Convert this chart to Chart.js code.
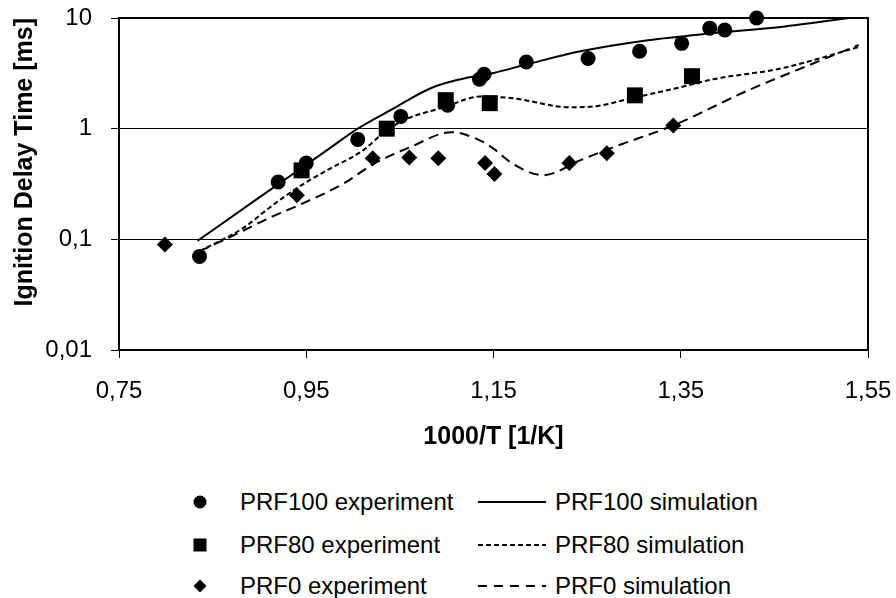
<!DOCTYPE html>
<html>
<head>
<meta charset="utf-8">
<script src="https://cdn.jsdelivr.net/npm/chart.js@4/dist/chart.umd.min.js"></script>
<style>
  html, body { margin: 0; padding: 0; background: #fff; }
  body { width: 896px; height: 598px; position: relative; overflow: hidden;
         font-family: "Liberation Sans", Arial, sans-serif; color: #000; }
  #wrap { position: absolute; left: 0; top: 0; width: 896px; height: 460px; }
  .row { position: absolute; left: 0; height: 30px; width: 896px; font-size: 24px; line-height: 30px; }
  .row span, .row svg { position: absolute; top: 0; }
</style>
</head>
<body>
<div id="wrap"><canvas id="chart" width="896" height="460"></canvas></div>
<div id="legend"></div>
<script>
// experiment points, x = 1000/T [1/K], y = ignition delay [ms]
const prf100ExpX = [0.836, 0.920, 0.950, 1.005, 1.051, 1.101, 1.135, 1.140, 1.185, 1.251, 1.306, 1.351, 1.381, 1.397, 1.431];
const prf100ExpY = [0.07, 0.33, 0.49, 0.80, 1.29, 1.63, 2.8, 3.1, 4.0, 4.3, 5.0, 5.9, 8.1, 7.8, 10];
const prf80ExpX = [0.945, 1.036, 1.099, 1.146, 1.301, 1.362];
const prf80ExpY = [0.42, 1.0, 1.81, 1.70, 2.0, 2.98];
const prf0ExpX = [0.799, 0.940, 1.021, 1.060, 1.091, 1.141, 1.151, 1.231, 1.271, 1.342];
const prf0ExpY = [0.09, 0.25, 0.54, 0.55, 0.54, 0.49, 0.39, 0.49, 0.60, 1.07];

// simulation curves
const prf100SimX = [0.834, 0.898, 0.970, 1.005, 1.040, 1.083, 1.115, 1.150, 1.185, 1.243, 1.315, 1.385, 1.457, 1.530];
const prf100SimY = [0.097, 0.233, 0.62, 1.0, 1.47, 2.32, 2.8, 3.19, 3.8, 5.0, 6.3, 7.3, 8.3, 10];
const prf80SimX = [0.836, 0.883, 0.911, 0.940, 0.972, 1.011, 1.032, 1.054, 1.097, 1.136, 1.171, 1.232, 1.261, 1.297, 1.350, 1.385, 1.457, 1.540];
const prf80SimY = [0.078, 0.127, 0.194, 0.29, 0.42, 0.64, 0.91, 1.19, 1.56, 1.95, 1.88, 1.56, 1.6, 1.88, 2.37, 2.8, 3.5, 5.46];
const prf0SimX = [0.836, 0.883, 0.911, 0.940, 0.990, 1.022, 1.061, 1.105, 1.136, 1.150, 1.171, 1.203, 1.243, 1.278, 1.342, 1.422, 1.492, 1.540];
const prf0SimY = [0.078, 0.12, 0.157, 0.20, 0.32, 0.48, 0.68, 0.93, 0.78, 0.66, 0.48, 0.38, 0.52, 0.68, 1.07, 2.22, 3.9, 5.7];

const xTickValues = [0.75, 0.95, 1.15, 1.35, 1.55];
const xTickLabels = ["0,75", "0,95", "1,15", "1,35", "1,55"];
const yTickValues = [0.01, 0.1, 1, 10];
const yTickLabels = ["0,01", "0,1", "1", "10"];

const legendItems = [
    { kind: "circle", text: "PRF100 experiment", dash: "", simText: "PRF100 simulation" },
    { kind: "square", text: "PRF80 experiment", dash: "5,3", simText: "PRF80 simulation" },
    { kind: "diamond", text: "PRF0 experiment", dash: "9,7", simText: "PRF0 simulation" }
];

function pts(xs, ys) {
    return xs.map((x, i) => ({ x: x, y: ys[i] }));
}

const FONT = "'Liberation Sans', Arial, sans-serif";

function expSet(label, xs, ys, style, r) {
    return {
        label: label,
        data: pts(xs, ys),
        showLine: false,
        pointStyle: style,
        pointRadius: r,
        pointHoverRadius: r,
        pointBackgroundColor: "#000",
        pointBorderColor: "#000",
        pointBorderWidth: 0,
        clip: false,
        order: 0
    };
}

function simSet(label, xs, ys, dash) {
    return {
        label: label,
        data: pts(xs, ys),
        showLine: true,
        borderColor: "#000",
        borderWidth: 2,
        borderDash: dash,
        pointRadius: 0,
        cubicInterpolationMode: "monotone",
        fill: false,
        order: 1
    };
}

// box round the plot area (top and right edges)
const frame = {
    id: "frame",
    afterDraw(chart) {
        const a = chart.chartArea;
        const c = chart.ctx;
        c.save();
        c.strokeStyle = "#000";
        c.lineWidth = 2;
        c.beginPath();
        c.moveTo(a.left, a.top);
        c.lineTo(a.right, a.top);
        c.lineTo(a.right, a.bottom);
        c.stroke();
        c.restore();
    }
};

new Chart(document.getElementById("chart"), {
    type: "scatter",
    data: {
        datasets: [
            expSet("PRF100 experiment", prf100ExpX, prf100ExpY, "circle", 7.5),
            expSet("PRF80 experiment", prf80ExpX, prf80ExpY, "rect", 11.3),
            expSet("PRF0 experiment", prf0ExpX, prf0ExpY, "rectRot", 8),
            simSet("PRF100 simulation", prf100SimX, prf100SimY, []),
            simSet("PRF80 simulation", prf80SimX, prf80SimY, [5, 3]),
            simSet("PRF0 simulation", prf0SimX, prf0SimY, [10, 6])
        ]
    },
    options: {
        responsive: false,
        animation: false,
        layout: { padding: { top: 18, right: 28, bottom: 8, left: 0 } },
        plugins: { legend: { display: false }, tooltip: { enabled: false } },
        scales: {
            x: {
                type: "linear",
                min: 0.75,
                max: 1.55,
                afterBuildTicks: s => { s.ticks = xTickValues.map(v => ({ value: v })); },
                afterFit: s => { s.height = 102; s.paddingLeft = 0; s.paddingRight = 0; },
                ticks: {
                    color: "#000",
                    padding: 19,
                    maxRotation: 0,
                    font: { family: FONT, size: 24 },
                    callback: (v, i) => xTickLabels[i]
                },
                grid: { drawOnChartArea: false, drawTicks: true, tickLength: 8, color: "#000", lineWidth: 1 },
                border: { color: "#000", width: 2 },
                title: {
                    display: true,
                    text: "1000/T [1/K]",
                    color: "#000",
                    padding: { top: 0, bottom: 0 },
                    font: { family: FONT, size: 25, weight: "bold" }
                }
            },
            y: {
                type: "logarithmic",
                min: 0.01,
                max: 10,
                afterBuildTicks: s => { s.ticks = yTickValues.map(v => ({ value: v })); },
                afterFit: s => { s.width = 119; s.paddingTop = 0; s.paddingBottom = 0; },
                ticks: {
                    color: "#000",
                    padding: 19,
                    font: { family: FONT, size: 24 },
                    callback: (v, i) => yTickLabels[i]
                },
                grid: { drawTicks: true, tickLength: 8, color: "#000", lineWidth: 1 },
                border: { color: "#000", width: 2 },
                title: {
                    display: true,
                    text: "Ignition Delay Time [ms]",
                    align: "end",
                    color: "#000",
                    padding: { top: 10, bottom: 0 },
                    font: { family: FONT, size: 25, weight: "bold" }
                }
            }
        }
    },
    plugins: [frame]
});

// legend laid out as in the figure: two columns, three rows
const rowTops = [487, 530, 571];
const legend = document.getElementById("legend");
legendItems.forEach((it, i) => {
    const row = document.createElement("div");
    row.className = "row";
    row.style.top = rowTops[i] + "px";
    let mark = "";
    if (it.kind === "circle") mark = '<circle cx="10" cy="15" r="6.5" fill="#000"/>';
    if (it.kind === "square") mark = '<rect x="3.5" y="8.5" width="13" height="13" fill="#000"/>';
    if (it.kind === "diamond") mark = '<path d="M10 8.5 L16.5 15 L10 21.5 L3.5 15 Z" fill="#000"/>';
    row.innerHTML =
        '<svg width="20" height="30" style="left:190px">' + mark + '</svg>' +
        '<span style="left:240px">' + it.text + '</span>' +
        '<svg width="68" height="30" style="left:478px"><line x1="0" y1="15" x2="68" y2="15" stroke="#000" stroke-width="2"' +
        (it.dash ? ' stroke-dasharray="' + it.dash + '"' : '') + '/></svg>' +
        '<span style="left:555px">' + it.simText + '</span>';
    legend.appendChild(row);
});
</script>
</body>
</html>
